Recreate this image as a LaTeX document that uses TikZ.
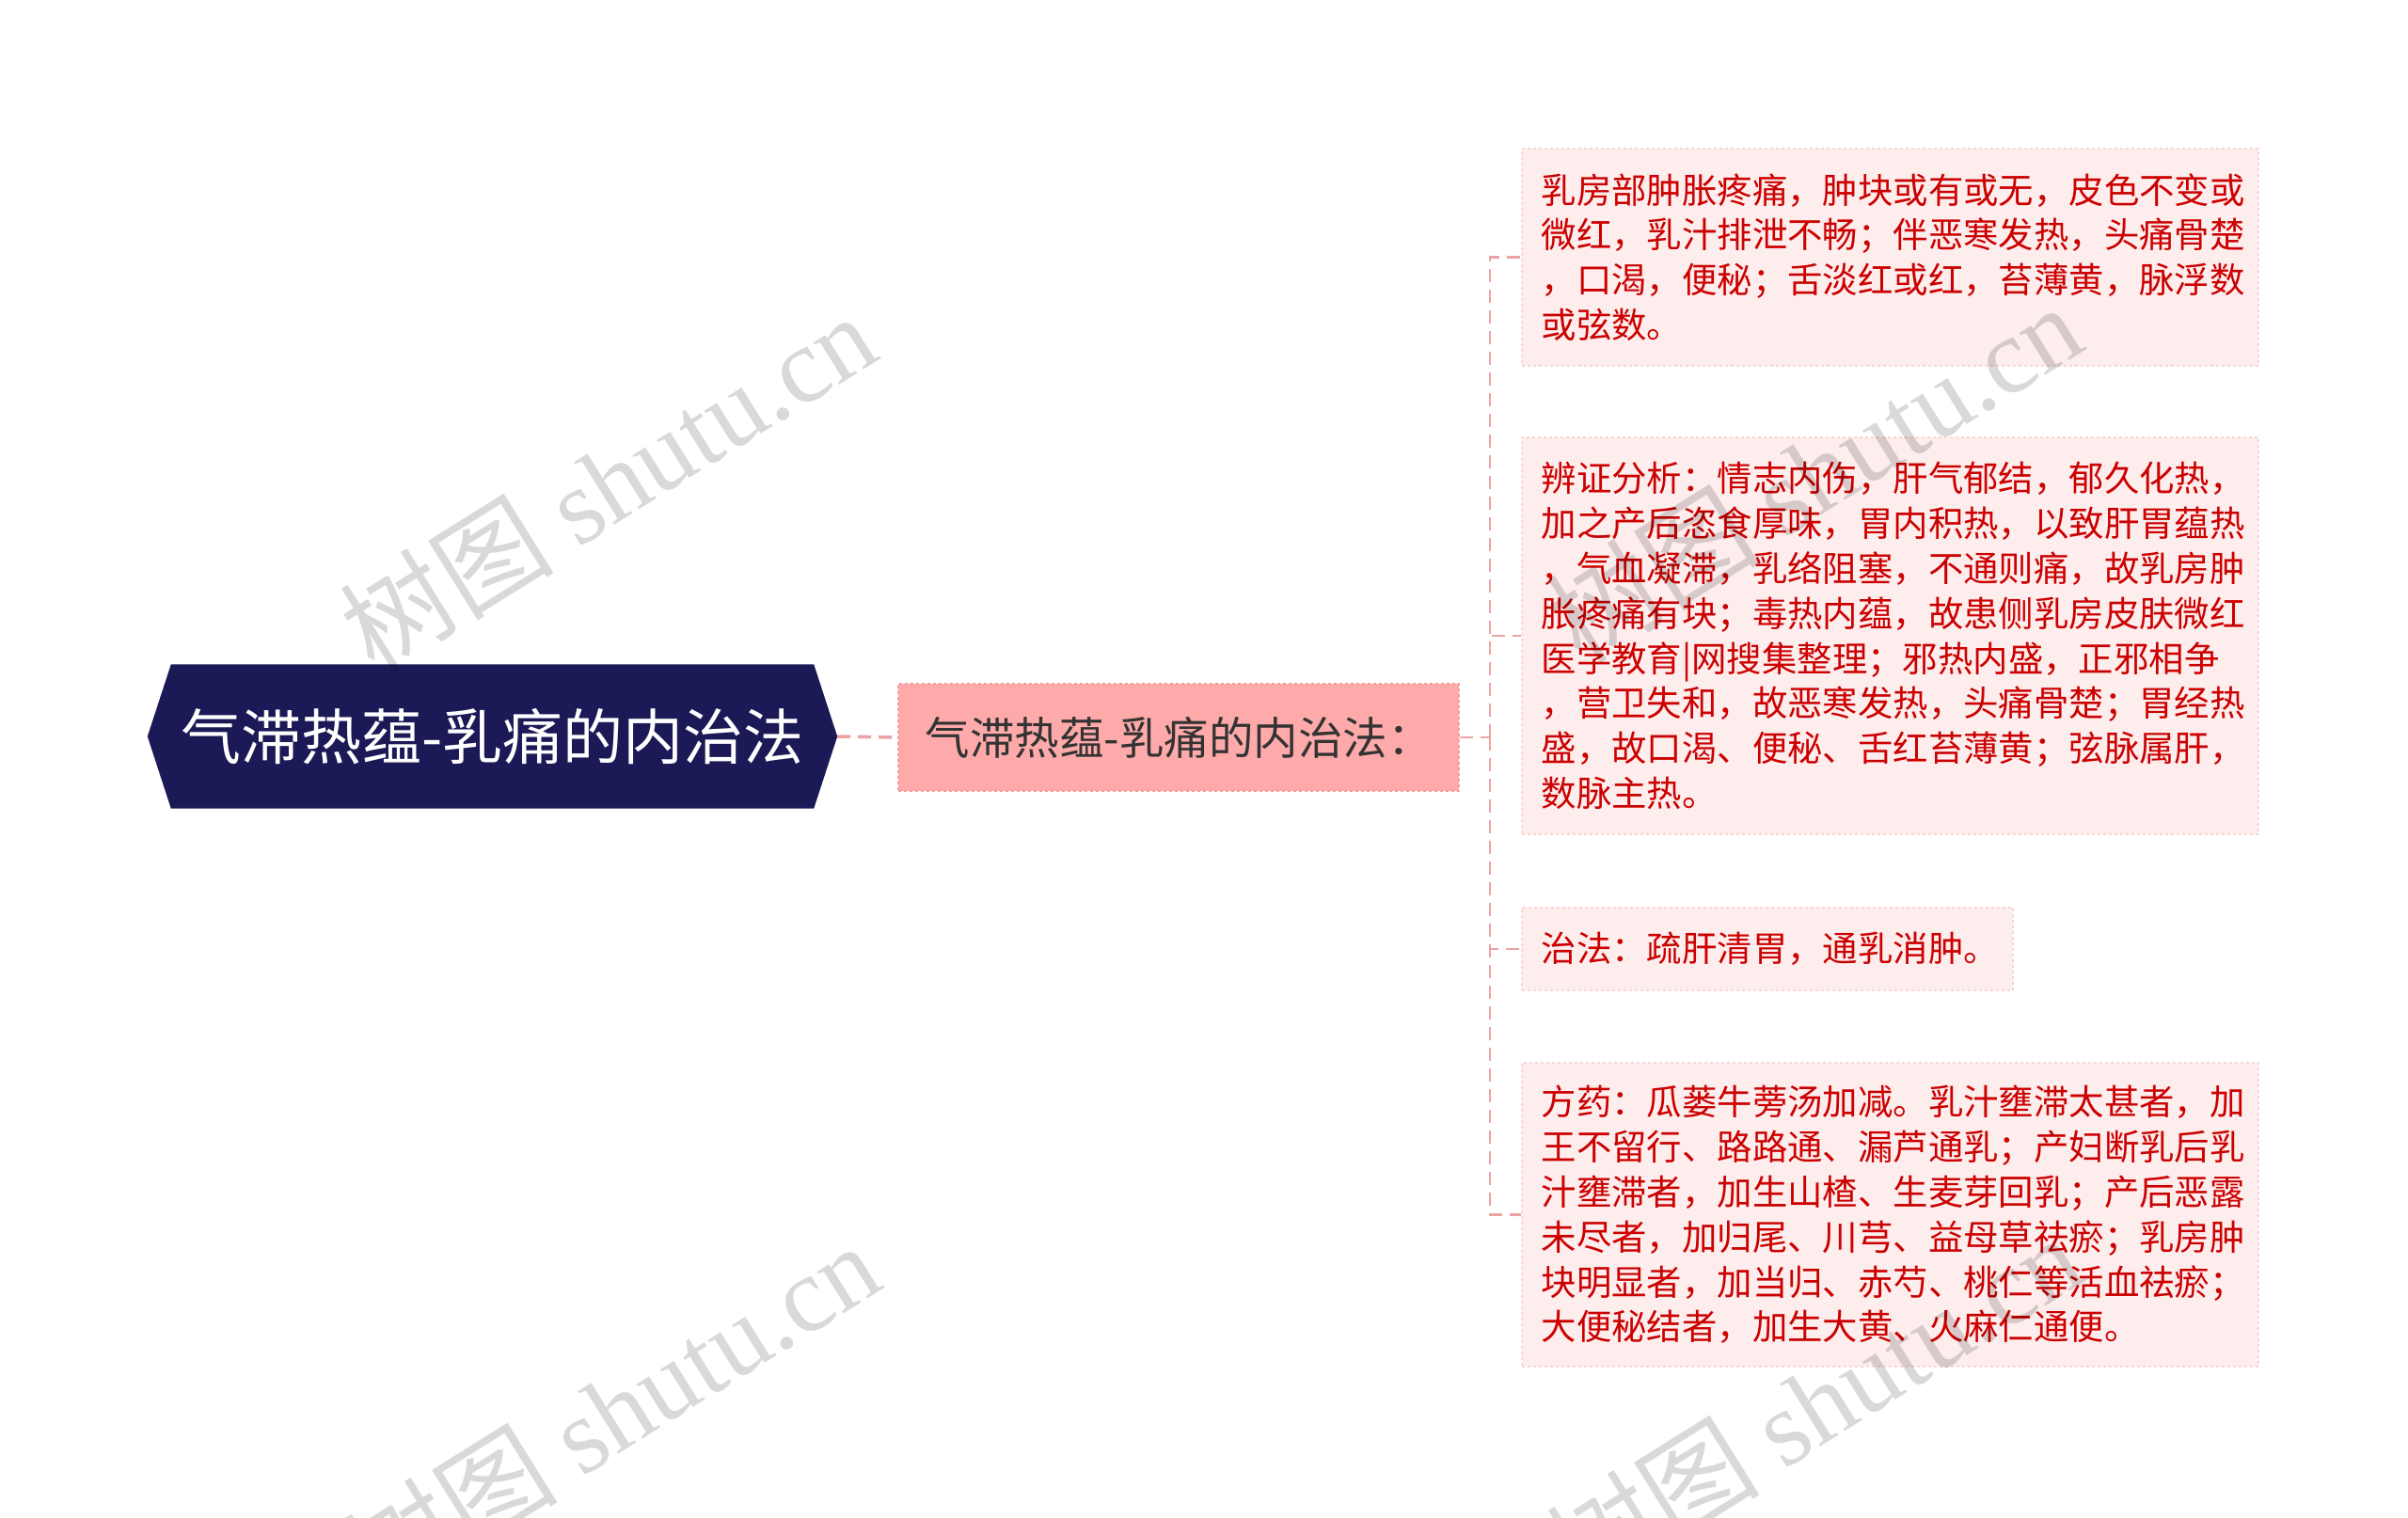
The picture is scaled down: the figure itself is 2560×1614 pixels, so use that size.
\documentclass[tikz,border=0pt]{standalone}
\usepackage{fontspec}
\setmainfont{Noto Sans CJK SC}
\newfontfamily\wmlatin{Liberation Serif}
\usetikzlibrary{backgrounds}
\definecolor{rootfill}{HTML}{1B1A57}
\definecolor{midfill}{HTML}{FFAAAA}
\definecolor{middraw}{HTML}{F59C9C}
\definecolor{midtext}{HTML}{333333}
\definecolor{leaffill}{HTML}{FDEDED}
\definecolor{leafdraw}{HTML}{F8D6D6}
\definecolor{leaftext}{HTML}{CC0000}
\definecolor{connc}{HTML}{EBA3A3}
\tikzset{
  rootbox/.style={rectangle, minimum width=733, minimum height=153, inner sep=0, text=white, font=\fontsize{64}{70}\selectfont},
  midbox/.style={rectangle, fill=midfill, draw=middraw, dashed, line width=1.5, minimum width=596, minimum height=114, inner sep=0, text=midtext, font=\fontsize{47.5}{52}\selectfont},
  leafbox/.style={rectangle, fill=leaffill, draw=leafdraw, dashed, line width=1.5, text=leaftext, font=\fontsize{37.4}{47.8}\selectfont, align=left, inner xsep=21, inner ysep=0, anchor=west},
  conn/.style={draw=connc, line width=2.5, dash pattern=on 14pt off 8pt},
  rootconn/.style={draw=connc, line width=3.5, dash pattern=on 14pt off 8pt},
  wm/.style={text=black, opacity=0.15, rotate=32, font=\fontsize{114}{114}\selectfont, inner sep=0}
}
\begin{document}
\begin{tikzpicture}[x=1pt, y=-1pt]
\begin{scope}[on background layer]
\fill[white] (0,0) rectangle (2560,1614);
\end{scope}
\useasboundingbox (0,0) rectangle (2560,1614);

\node[rootbox] (root) at (523.5,783) {气滞热蕴-乳痛的内治法};
\begin{scope}[on background layer]
\fill[rootfill] (root.west) -- ([xshift=25]root.north west) -- ([xshift=-25]root.north east) -- (root.east) -- ([xshift=-25]root.south east) -- ([xshift=25]root.south west) -- cycle;
\end{scope}

\node[midbox] (mid) at (1253,784) {气滞热蕴-乳痛的内治法：};

\node[leafbox, text width=741, minimum height=231] (l1) at (1617,273.5) {乳房部肿胀疼痛，肿块或有或无，皮色不变或\\微红，乳汁排泄不畅；伴恶寒发热，头痛骨楚\\，口渴，便秘；舌淡红或红，苔薄黄，脉浮数\\或弦数。};

\node[leafbox, text width=741, minimum height=422] (l2) at (1617,676) {辨证分析：情志内伤，肝气郁结，郁久化热，\\加之产后恣食厚味，胃内积热，以致肝胃蕴热\\，气血凝滞，乳络阻塞，不通则痛，故乳房肿\\胀疼痛有块；毒热内蕴，故患侧乳房皮肤微红\\医学教育|网搜集整理；邪热内盛，正邪相争\\，营卫失和，故恶寒发热，头痛骨楚；胃经热\\盛，故口渴、便秘、舌红苔薄黄；弦脉属肝，\\数脉主热。};

\node[leafbox, text width=480, minimum height=88] (l3) at (1617,1009) {治法：疏肝清胃，通乳消肿。};

\node[leafbox, text width=741, minimum height=323] (l4) at (1617,1291.5) {方药：瓜蒌牛蒡汤加减。乳汁壅滞太甚者，加\\王不留行、路路通、漏芦通乳；产妇断乳后乳\\汁壅滞者，加生山楂、生麦芽回乳；产后恶露\\未尽者，加归尾、川芎、益母草祛瘀；乳房肿\\块明显者，加当归、赤芍、桃仁等活血祛瘀；\\大便秘结者，加生大黄、火麻仁通便。};

\coordinate (trunk) at (1584,784);
\draw[rootconn] (root.east) -- (mid.west);
\draw[conn] (mid.east) -- (trunk);
\draw[conn] (trunk) |- (l1.west);
\draw[conn] (trunk) |- (l2.west);
\draw[conn] (trunk) |- (l3.west);
\draw[conn] (trunk) |- (l4.west);

\node[wm] (wm1) at (646,512) {树图 {\wmlatin shutu.cn}};
\node[wm] (wm2) at (1928,502) {树图 {\wmlatin shutu.cn}};
\node[wm] (wm3) at (650,1500) {树图 {\wmlatin shutu.cn}};
\node[wm] (wm4) at (1928,1492) {树图 {\wmlatin shutu.cn}};
\end{tikzpicture}
\end{document}
